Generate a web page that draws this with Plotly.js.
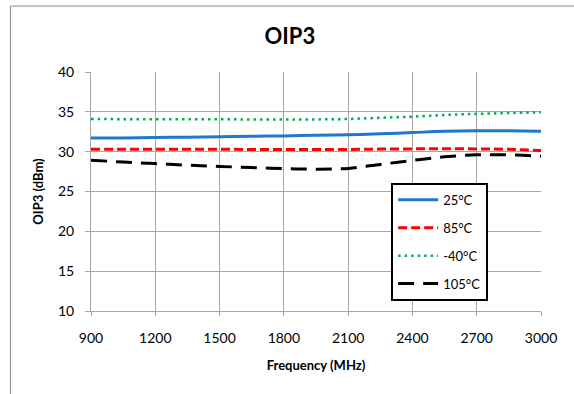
<!DOCTYPE html>
<html>
<head>
<meta charset="utf-8">
<script src="https://cdn.plot.ly/plotly-3.0.1.min.js"></script>
<style>html,body{margin:0;padding:0;background:#fff;}#chart{width:574px;height:394px;}</style>
</head>
<body>
<div id="chart"></div>
<script>
const freq = [900,1050,1200,1350,1500,1650,1800,1950,2100,2250,2400,2550,2700,2850,3000];
const t25  = [31.70,31.72,31.78,31.82,31.88,31.93,31.98,32.05,32.12,32.25,32.40,32.55,32.62,32.62,32.55];
const t85  = [30.30,30.30,30.30,30.30,30.30,30.28,30.27,30.27,30.28,30.32,30.35,30.36,30.35,30.30,30.15];
const tm40 = [34.10,34.08,34.07,34.07,34.06,34.05,34.05,34.05,34.10,34.25,34.40,34.60,34.75,34.85,34.95];
const t105 = [28.93,28.70,28.50,28.30,28.15,28.00,27.88,27.80,27.90,28.40,28.90,29.35,29.60,29.60,29.42];
const names = ['25\u00B0C','85\u00B0C','-40\u00B0C','105\u00B0C'];
const xTicks = [900,1200,1500,1800,2100,2400,2700,3000];
const yTicks = [10,15,20,25,30,35,40];

const FONT = 'Lato, "Open Sans", sans-serif';
const traces = [
  {x:freq, y:t25, name:names[0], legendgroup:'a', line:{color:'#1f78c8', width:3, shape:'spline'}},
  {x:freq, y:t85, name:names[1], legendgroup:'b', line:{color:'#ff0000', width:3, dash:'9px,4px', shape:'spline'}},
  {x:freq, y:tm40, name:names[2], legendgroup:'c', line:{color:'#00b050', width:2.5, dash:'2.5px,4px', shape:'spline'}},
  {x:freq, y:t105, name:names[3], legendgroup:'d', line:{color:'#000000', width:3, dash:'16px,9px', shape:'spline'}}
].map(t => Object.assign({type:'scatter', mode:'lines', hoverinfo:'skip'}, t));

const layout = {
  width:574, height:394,
  margin:{l:91, r:33, t:72, b:83},
  paper_bgcolor:'#ffffff', plot_bgcolor:'#ffffff',
  font:{family:FONT, size:13, color:'#000'},
  showlegend:true,
  title:{text:'<b>OIP3</b>', font:{family:FONT, size:22, color:'#000'}, x:0.505, xanchor:'center', y:0.908, yanchor:'middle'},
  xaxis:{range:[900,3000], tickvals:xTicks, ticktext:xTicks.map(String),
    showgrid:true, gridcolor:'#a6a6a6', gridwidth:1,
    showline:true, linecolor:'#a6a6a6', linewidth:1,
    ticks:'outside', ticklen:4, tickcolor:'#a6a6a6', ticklabelstandoff:10,
    tickfont:{family:FONT, size:14}, zeroline:false,
    title:{text:'<b>Frequency (MHz)</b>', font:{family:FONT, size:13}, standoff:16}},
  yaxis:{range:[10,40], tickvals:yTicks,
    showgrid:true, gridcolor:'#a6a6a6', gridwidth:1,
    showline:true, linecolor:'#a6a6a6', linewidth:1,
    ticks:'outside', ticklen:5, tickcolor:'#a6a6a6', ticklabelstandoff:8,
    tickfont:{family:FONT, size:14}, zeroline:false,
    title:{text:'<b>OIP3 (dBm)</b>', font:{family:FONT, size:13}, standoff:11}},
  legend:{x:0.667, y:0.536, xanchor:'left', yanchor:'top',
    bgcolor:'#ffffff', bordercolor:'#000000', borderwidth:2,
    font:{family:FONT, size:13}, traceorder:'grouped', tracegroupgap:8, itemwidth:40},
  shapes:[
    {type:'path', xref:'paper', yref:'paper', path:'M -0.179 -0.5 L -0.179 1.276 L 1.3 1.276', line:{color:'#8c8c8c', width:1}}
  ]
};
Plotly.newPlot('chart', traces, layout, {displayModeBar:false, staticPlot:true});
</script>
</body>
</html>
